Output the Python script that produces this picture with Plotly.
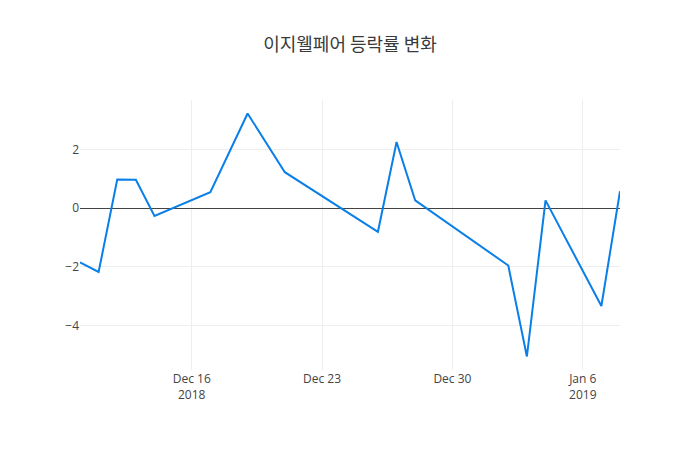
import plotly.graph_objects as go

dates = ["2018-12-10", "2018-12-11", "2018-12-12", "2018-12-13", "2018-12-14",
         "2018-12-17", "2018-12-19", "2018-12-21", "2018-12-26", "2018-12-27",
         "2018-12-28", "2019-01-02", "2019-01-03", "2019-01-04", "2019-01-07",
         "2019-01-08"]
changes = [-1.84, -2.17, 0.98, 0.97, -0.26,
           0.55, 3.23, 1.23, -0.80, 2.26,
           0.27, -1.95, -5.05, 0.27, -3.33,
           0.58]

fig = go.Figure(go.Scatter(
    x=dates, y=changes, mode="lines",
    line=dict(color="#0a7fe8", width=2),
))

fig.update_layout(
    template="none",
    width=700, height=450,
    title=dict(text="이지웰페어 등락률 변화", x=0.5, xanchor="center",
               y=0.9, yanchor="middle",
               font=dict(family="Noto Sans CJK KR", size=18, color="#3a3a3a")),
    font=dict(family="Open Sans", size=12, color="#444"),
    margin=dict(l=80, r=80, t=100, b=80),
    plot_bgcolor="white", paper_bgcolor="white",
    xaxis=dict(showgrid=True, gridcolor="#eee", zeroline=False, showline=False,
               ticks=""),
    yaxis=dict(showgrid=True, gridcolor="#eee", zeroline=True, zerolinecolor="#444",
               zerolinewidth=1, showline=False, ticks="", dtick=2),
    showlegend=False,
)

fig.write_html("out.html")
